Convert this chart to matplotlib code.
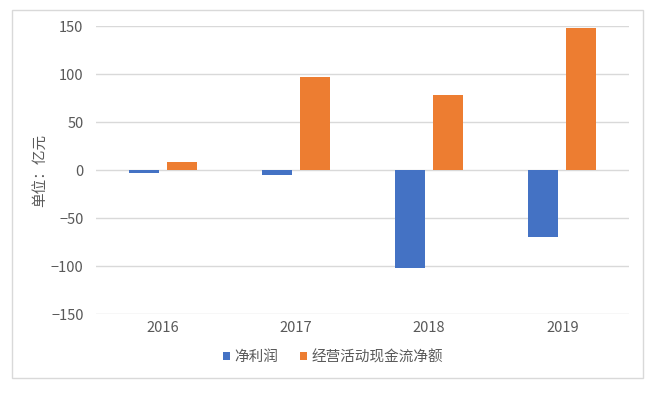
import matplotlib.pyplot as plt
import matplotlib.patches as mpatches
import numpy as np

plt.rcParams['font.family'] = ['Noto Sans CJK SC', 'DejaVu Sans']

years = ['2016', '2017', '2018', '2019']
net_profit = [-3, -5, -102, -70]
op_cashflow = [8, 97, 78, 148]
yticks = [-150, -100, -50, 0, 50, 100, 150]

blue = '#4472C4'
orange = '#ED7D31'
txt = '#595959'

fig = plt.figure(figsize=(6.6, 3.94), dpi=100)
ax = fig.add_axes([96 / 660, 1 - 314 / 394, 533 / 660, 288 / 394])

# outer chart frame
fig.patches.append(mpatches.Rectangle((12 / 660, 1 - 378 / 394), 631 / 660, 368 / 394,
                                      transform=fig.transFigure, fill=False,
                                      edgecolor='#D9D9D9', linewidth=1))

x = np.arange(len(years))
w = 0.225
gap = 0.06
ax.bar(x - (w + gap) / 2, net_profit, w, color=blue, label='净利润', zorder=3)
ax.bar(x + (w + gap) / 2, op_cashflow, w, color=orange, label='经营活动现金流净额', zorder=3)

ax.set_xlim(-0.5, len(years) - 0.5)
ax.set_ylim(-150, 150)
ax.set_yticks(yticks)
ax.set_xticks(x)
ax.set_xticklabels(years)
ax.grid(axis='y', color='#D9D9D9', linewidth=1, zorder=0)
for s in ax.spines.values():
    s.set_visible(False)
ax.tick_params(length=0, colors=txt, labelsize=10.5)
ax.tick_params(axis='y', pad=9)
ax.tick_params(axis='x', pad=5)

fig.text(40 / 660, 1 - 170 / 394, '单位：亿元', rotation=90, ha='center', va='center',
         color=txt, fontsize=10.5)

ax.legend(loc='center', bbox_to_anchor=(333 / 660, 1 - 357 / 394),
          bbox_transform=fig.transFigure, ncol=2, frameon=False,
          handlelength=0.5, handleheight=0.5, handletextpad=0.3, columnspacing=1.5,
          labelcolor=txt, fontsize=10.5)

fig.savefig('out.png', dpi=100)
